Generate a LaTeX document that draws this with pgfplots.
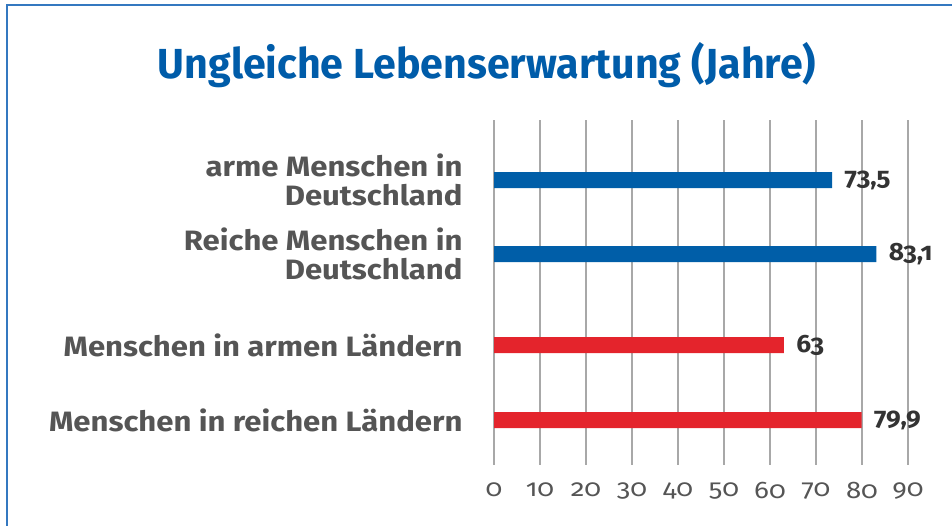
\documentclass[border=0pt]{standalone}
\usepackage{fontspec}
\setmainfont{Fira Sans}[Numbers=OldStyle]
\newfontfamily\titlefont{Fira Sans}[FakeStretch=0.98]
\newfontfamily\labfont{Fira Sans}[FakeStretch=1.11]
\newfontfamily\tickfont{Fira Sans}[Numbers=OldStyle, FakeStretch=1.15]
\newfontfamily\valfont{Fira Sans}[Numbers=OldStyle, FakeStretch=1.05]
\usepackage{pgfplots}
\pgfplotsset{compat=1.18}
\definecolor{titleblue}{HTML}{005CA9}
\definecolor{barblue}{HTML}{005EA8}
\definecolor{barred}{HTML}{E4242C}
\definecolor{frameblue}{HTML}{3478C0}
\definecolor{gridgray}{HTML}{A8A8A8}
\definecolor{labgray}{HTML}{555555}
\definecolor{valgray}{HTML}{333333}
\begin{document}
\begin{tikzpicture}[x=1pt,y=-1pt]
\useasboundingbox (0,0) rectangle (952,525);
\draw[color=frameblue, line width=2pt] (7,5) rectangle (990,570);
\node[anchor=base, font=\titlefont\bfseries\fontsize{42}{50}\selectfont, text=titleblue] at (487,78) {Ungleiche Lebenserwartung (Jahre)};
\coordinate (A) at (494,465);
\begin{axis}[
  at={(A)}, anchor=south west,
  width=414pt, height=345pt, scale only axis,
  xmin=0, xmax=90, ymin=120, ymax=465, y dir=reverse,
  axis line style={draw=none},
  major tick length=0pt,
  xtick={0,10,...,90},
  xmajorgrids, grid style={gridgray, line width=1.5pt},
  ytick={180,254,345,420},
  yticklabels={{arme Menschen in\\Deutschland},{Reiche Menschen in\\Deutschland},{Menschen in armen Ländern},{Menschen in reichen Ländern}},
  yticklabel style={align=right, text=labgray, font=\labfont\bfseries\fontsize{28}{29}\selectfont, xshift=-28pt},
  xticklabel style={text=labgray, font=\tickfont\fontsize{24}{26}\selectfont, yshift=-14pt},
  /pgf/number format/assume math mode=true,
  clip=false,
]
\addplot[xbar, bar shift=0pt, bar width=16, fill=barblue, draw=none,
  nodes near coords, point meta=explicit symbolic,
  nodes near coords style={anchor=west, xshift=9pt, text=valgray, font=\valfont\bfseries\fontsize{25}{27}\selectfont}]
  coordinates {(73.5,180) [73,5] (83.1,254) [83,1]};
\addplot[xbar, bar shift=0pt, bar width=16, fill=barred, draw=none,
  nodes near coords, point meta=explicit symbolic,
  nodes near coords style={anchor=west, xshift=9pt, text=valgray, font=\valfont\bfseries\fontsize{25}{27}\selectfont}]
  coordinates {(63,345) [63] (79.9,420) [79,9]};
\end{axis}
\end{tikzpicture}
\end{document}
